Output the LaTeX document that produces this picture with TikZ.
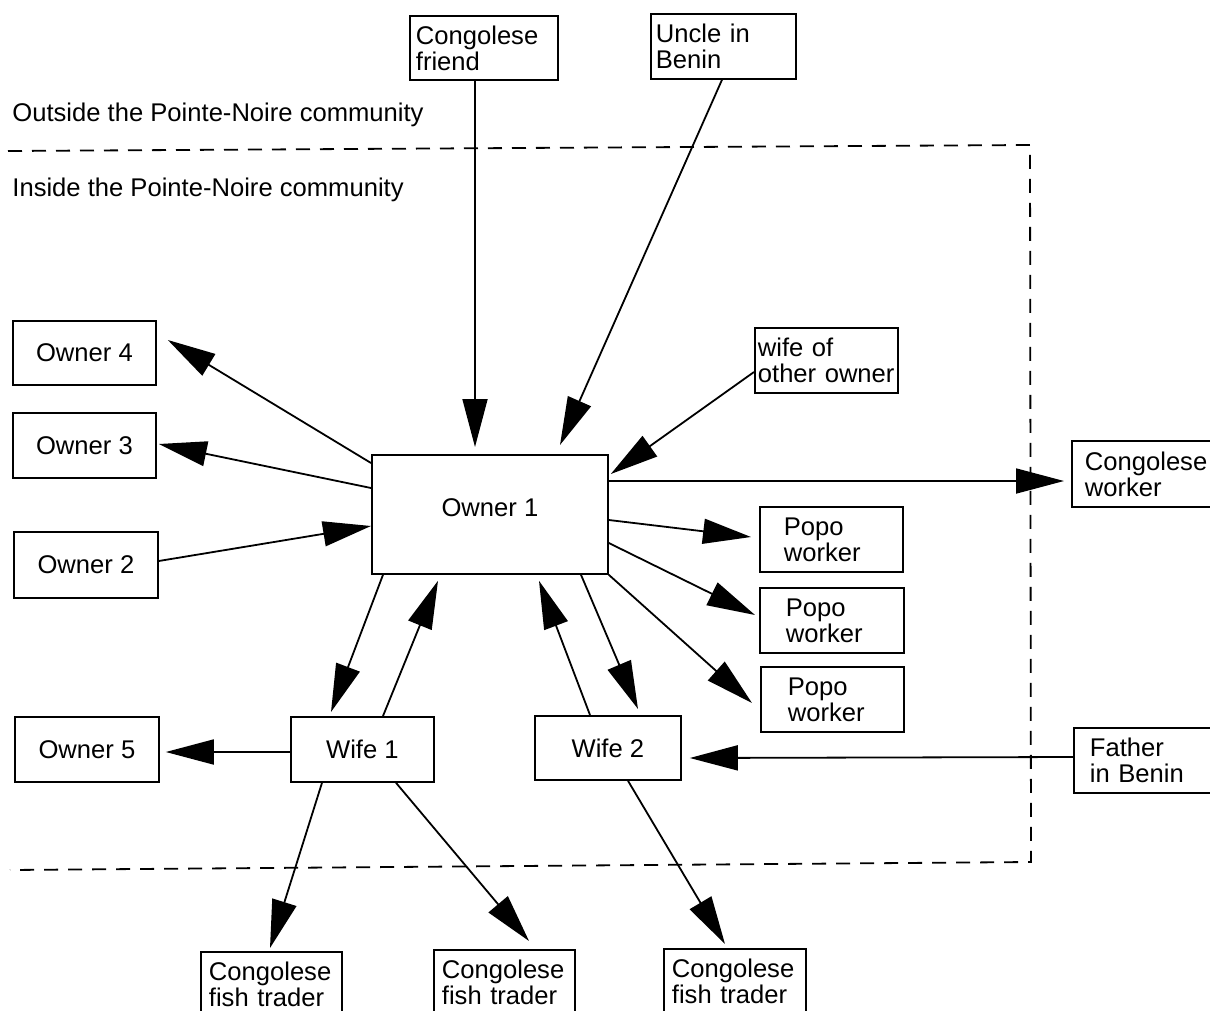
\documentclass[tikz,border=0pt]{standalone}
\usepackage{fontspec}
\setmainfont{Liberation Sans}
\usetikzlibrary{arrows.meta,calc}
\begin{document}
\begin{tikzpicture}[x=0.5pt,y=-0.5pt,
  box/.style={draw, line width=0.9pt, inner sep=0pt, anchor=north west,
    font=\fontsize{12.8pt}{13pt}\selectfont, align=center},
  lbox/.style={box, align=left},
  arr/.style={line width=0.9pt, -{Triangle[length=24pt,width=12.5pt]}},
  frame/.style={line width=0.9pt, dash pattern=on 7pt off 5pt},
  lab/.style={anchor=base west, inner sep=0pt, font=\fontsize{12.8pt}{13pt}\selectfont}
]
\useasboundingbox (0,0) rectangle (1210,1011);
\clip (0,0) rectangle (1210,1011);

% community frame
\draw[frame] (8,151) -- (1030,145) -- (1031,862) -- (10,870);
\node[lab] (outside) at (12,122) {Outside the Pointe-Noire community};
\node[lab] (inside) at (12,197) {Inside the Pointe-Noire community};

% boxes
\node[lbox, minimum width=74pt, minimum height=32pt, text width=68pt, inner xsep=3pt] (fr) at (409,15) {Congolese\\friend};
\node[lbox, minimum width=72.5pt, minimum height=32.5pt, text width=67.5pt, inner xsep=2.5pt] (un) at (650,13) {Uncle in\\Benin};
\node[box, minimum width=71.5pt, minimum height=32pt] (ow4) at (12,320) {Owner 4};
\node[box, minimum width=71.5pt, minimum height=32.5pt] (ow3) at (12,412) {Owner 3};
\node[box, minimum width=72pt, minimum height=33pt] (ow2) at (13,531) {Owner 2};
\node[box, minimum width=118pt, minimum height=59.5pt, text depth=7pt] (o1) at (371,454) {Owner 1};
\node[lbox, minimum width=71.5pt, minimum height=32.5pt, text width=68.5pt, inner xsep=1.5pt] (wo) at (754,327) {wife of\\other owner};
\node[lbox, minimum width=75pt, minimum height=33pt, text width=62pt, inner xsep=6.5pt] (cw) at (1071,440) {Congolese\\worker};
\node[lbox, minimum width=71.5pt, minimum height=32.5pt, text width=47.5pt, inner xsep=12pt] (p1) at (759,506) {Popo\\worker};
\node[lbox, minimum width=72pt, minimum height=32.5pt, text width=46pt, inner xsep=13pt] (p2) at (759,587) {Popo\\worker};
\node[lbox, minimum width=71.5pt, minimum height=32.5pt, text width=44.5pt, inner xsep=13.5pt] (p3) at (760,666) {Popo\\worker};
\node[box, minimum width=72pt, minimum height=32.5pt] (ow5) at (14,716) {Owner 5};
\node[box, minimum width=71.5pt, minimum height=32.5pt] (w1) at (290,716) {Wife 1};
\node[box, minimum width=73pt, minimum height=32pt] (w2) at (534,715) {Wife 2};
\node[lbox, minimum width=75pt, minimum height=32.5pt, text width=59pt, inner xsep=8pt] (fa) at (1073,727) {Father\\in Benin};
\node[lbox, minimum width=70.5pt, minimum height=32pt, text width=62.5pt, inner xsep=4pt] (ft1) at (200,951) {Congolese\\fish trader};
\node[lbox, minimum width=70.5pt, minimum height=32pt, text width=62.5pt, inner xsep=4pt] (ft2) at (433,949) {Congolese\\fish trader};
\node[lbox, minimum width=71pt, minimum height=32pt, text width=63pt, inner xsep=4pt] (ft3) at (663,948) {Congolese\\fish trader};

% connectors
\draw[arr] ($(fr.south west)+(66,0)$) -- ($(o1.north west)+(104,-7)$);
\draw[arr] ($(un.south west)+(72,0)$) -- ($(o1.north west)+(189,-9)$);
\draw[arr] ($(wo.north west)+(0,45)$) -- ($(o1.north east)+(2,20)$);
\draw[arr] ($(o1.north west)+(0,9)$) -- ($(ow4.north east)+(11,20)$);
\draw[arr] ($(o1.north west)+(0,34)$) -- ($(ow3.north east)+(2,32)$);
\draw[arr] ($(ow2.north east)+(0,30)$) -- ($(o1.north west)+(0,72)$);
\draw[arr] ($(o1.north east)+(0,27)$) -- ($(cw.north west)+(-7,41)$);
\draw[arr] ($(o1.north east)+(0,66)$) -- ($(p1.north west)+(-8,31)$);
\draw[arr] ($(o1.north east)+(0,89)$) -- ($(p2.north west)+(-4,28)$);
\draw[arr] (o1.south east) -- ($(p3.north west)+(-8,37)$);
\draw[arr] ($(o1.south west)+(12,0)$) -- ($(w1.north west)+(41,-4)$);
\draw[arr] ($(w1.north west)+(93,0)$) -- ($(o1.south west)+(67,6)$);
\draw[arr] ($(w2.north west)+(56,0)$) -- ($(o1.south west)+(168,6)$);
\draw[arr] ($(o1.south west)+(210,0)$) -- ($(w2.north west)+(104,-6)$);
\draw[arr] ($(w1.north west)+(0,36)$) -- ($(ow5.north east)+(6,36)$);
\draw[arr] ($(fa.north west)+(0,30)$) -- ($(w2.north east)+(8,43)$);
\draw[arr] ($(w1.south west)+(32,0)$) -- ($(ft1.north west)+(70,-3)$);
\draw[arr] ($(w1.south west)+(106,0)$) -- ($(ft2.north west)+(96,-8)$);
\draw[arr] ($(w2.south west)+(94,0)$) -- ($(ft3.north west)+(62,-4)$);
\end{tikzpicture}
\end{document}
